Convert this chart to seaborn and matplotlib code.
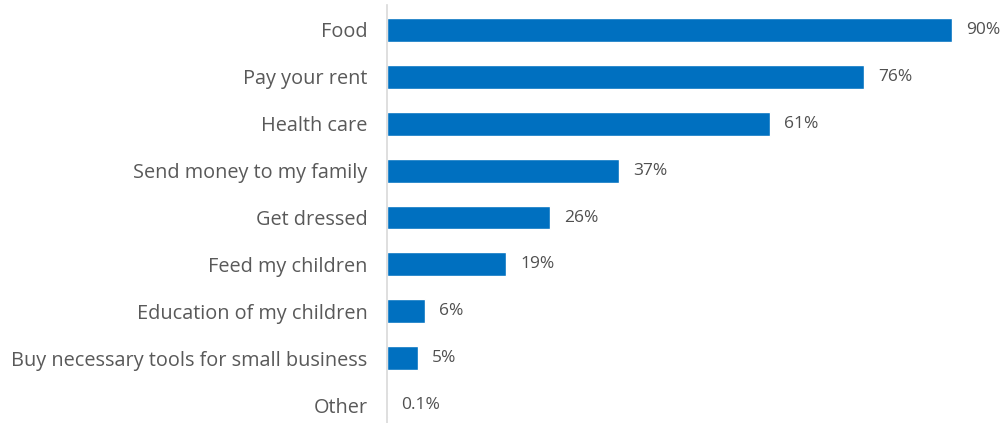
import matplotlib
matplotlib.use("Agg")
import matplotlib.pyplot as plt
import pandas as pd
import seaborn as sns

# Data
categories = ['Food', 'Pay your rent', 'Health care', 'Send money to my family',
              'Get dressed', 'Feed my children', 'Education of my children',
              'Buy necessary tools for small business', 'Other']
values = [90, 76, 61, 37, 26, 19, 6, 5, 0.1]
value_labels = ['90%', '76%', '61%', '37%', '26%', '19%', '6%', '5%', '0.1%']

df = pd.DataFrame({'category': categories, 'value': values})

sns.set_style('white')
plt.rcParams['font.family'] = ['Open Sans', 'DejaVu Sans']

fig = plt.figure(figsize=(10.07, 4.23), dpi=100)
ax = fig.add_axes([387 / 1007, 0, 1 - 387 / 1007, 418 / 423])

sns.barplot(data=df, x='value', y='category', color='#0070C0', width=0.51,
            saturation=1, ax=ax)

# Value labels
for i, (v, lab) in enumerate(zip(values, value_labels)):
    ax.text(v + 2.2, i, lab, va='center', ha='left', fontsize=12.5, color='#505050')

ax.set_xlim(0, 98.7)
ax.set_ylim(8.38, -0.53)
ax.set_xlabel('')
ax.set_ylabel('')
ax.set_xticks([])
ax.tick_params(axis='y', length=0, pad=14, labelsize=14.3, labelcolor='#595959')

for side in ['top', 'right', 'bottom']:
    ax.spines[side].set_visible(False)
ax.spines['left'].set_color('#D9D9D9')
ax.spines['left'].set_linewidth(1.2)

fig.savefig('out.png', dpi=100)
